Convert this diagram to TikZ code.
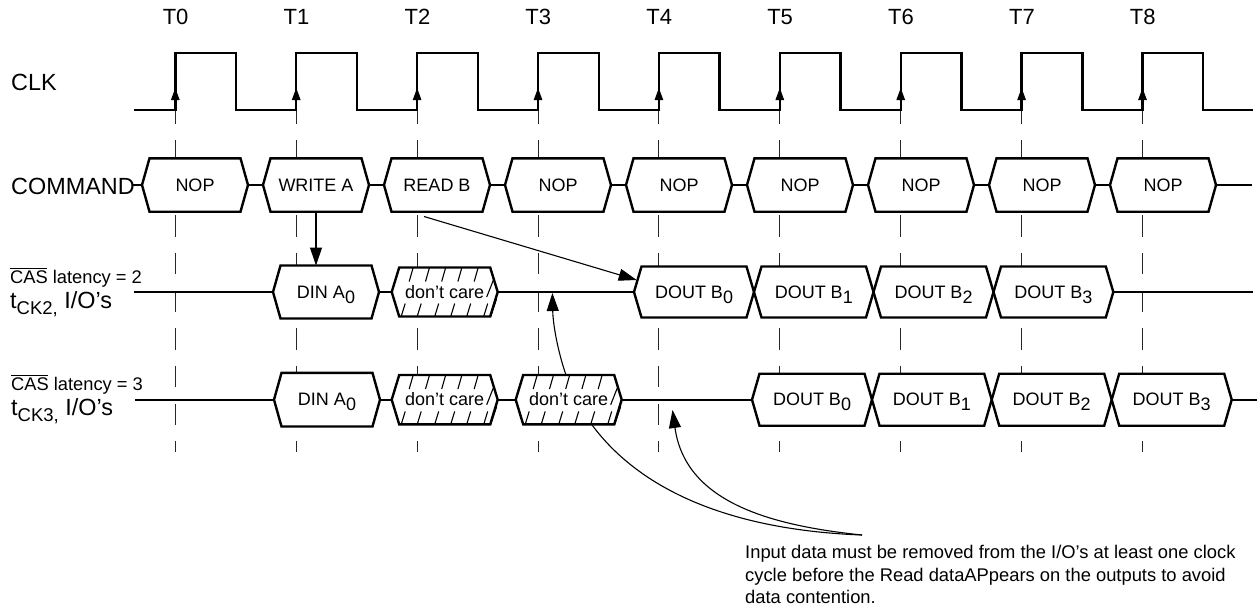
\documentclass[tikz,border=0pt]{standalone}
\usepackage{fontspec}
\setmainfont{Liberation Sans}
\usetikzlibrary{arrows.meta,calc}
\newcommand{\fsz}[1]{\fontsize{#1pt}{#1pt}\selectfont}
\newcommand{\subd}[1]{\raisebox{-5pt}{#1}}
\newcommand{\casbar}{\rlap{\rule[13.8pt]{37pt}{0.9pt}}CAS}
% name, left tip, right tip, mid y, half height, text
\newcommand{\busbox}[6]{%
  \pgfmathsetmacro{\bl}{#2}\pgfmathsetmacro{\br}{#3}%
  \coordinate (#1-l) at (\bl,#4);
  \coordinate (#1-r) at (\br,#4);
  \coordinate (#1-n) at ({(\bl+\br)/2},{#4-#5});
  \coordinate (#1-s) at ({(\bl+\br)/2},{#4+#5});
  \draw[sig,fill=white] (#1-l) -- ({\bl+7.5},{#4-#5}) -- ({\br-7.5},{#4-#5}) -- (#1-r)
     -- ({\br-7.5},{#4+#5}) -- ({\bl+7.5},{#4+#5}) -- cycle;
  \node[boxtext] (#1) at ({(\bl+\br)/2},{#4+6}) {#6};
}
% hatch for a don't-care box: name, left tip, mid y, half height
\newcommand{\hatchbox}[4]{%
  \foreach \o in {21.5,37.8,54,70.2,86.5}
    \draw[hatch] ({#2+\o},{#3-#4}) -- ++(-4,14);
  \foreach \o in {9.5,25.5,43,59,75,92}
    \draw[hatch] ({#2+\o},{#3+#4}) -- ++(4,-13);
  \draw[hatch] ({#2+99},{#3+#4}) -- ++(6,-18);
  \draw[hatch] ({#2+95},{#3+5}) -- ++(6.6,-16.7);
}
\tikzset{
  sig/.style={line width=2.4pt,line join=miter,black},
  hatch/.style={line width=1.1pt,black},
  thin line/.style={line width=1.1pt,black},
  tline/.style={line width=1pt,black!85,dash pattern=on 21.5pt off 16.2pt},
  arr/.style={line width=1.1pt,black,-{Triangle[length=18pt,width=12pt]}},
  clkarr/.style={line width=1pt,black,-{Triangle[length=12pt,width=8.5pt]}},
  boxtext/.style={anchor=base,font=\fsz{18},inner sep=0pt},
  bigtext/.style={anchor=base west,font=\fsz{23.4},inner sep=0pt},
  ttext/.style={anchor=base,font=\fsz{22},inner sep=0pt},
  smalltext/.style={anchor=base west,font=\fsz{18.3},inner sep=0pt},
  note/.style={anchor=base west,font=\fsz{18.35},inner sep=0pt},
}
\begin{document}
\begin{tikzpicture}[x=1pt,y=-1pt]
\useasboundingbox (0,0) rectangle (1260,610);
\fill[white] (0,0) rectangle (1260,610);
% timing lines and labels
\foreach \i in {0,...,8}{
  \pgfmathsetmacro{\tx}{175.3+120.9*\i}
  \coordinate (tt\i) at (\tx,102);
  \coordinate (tb\i) at (\tx,452);
  \draw[tline] (tt\i) -- (tb\i);
  \node[ttext] (T\i) at (\tx+0.3,25) {T\i};
}
% clock
\coordinate (clkstart) at (134,110);
\coordinate (clkend) at (1253,110);
\draw[sig] (clkstart)
  \foreach \i in {0,...,8}{ -- (175.3+120.9*\i,110) -- (175.3+120.9*\i,53) -- (236+120.9*\i,53) -- (236+120.9*\i,110) }
  -- (clkend);
\foreach \i in {0,...,8}
  \draw[clkarr] (175.3+120.9*\i,108) -- (175.3+120.9*\i,88);
% signal baselines
\coordinate (cmdstart) at (133,185);
\coordinate (cmdend) at (1252,185);
\coordinate (r2start) at (134,292);
\coordinate (r2end) at (1253,292);
\coordinate (r3start) at (135,399.7);
\coordinate (r3end) at (1257,399.7);
% command row
\foreach \i/\t in {0/NOP,1/WRITE A,2/READ B,3/NOP,4/NOP,5/NOP,6/NOP,7/NOP,8/NOP}{
  \busbox{cmd\i}{142+121*\i}{248+121*\i}{185}{26.7}{\t}
}
\draw[sig] (cmdstart) -- (cmd0-l);
\foreach \a/\b in {0/1,1/2,2/3,3/4,4/5,5/6,6/7,7/8}
  \draw[sig] (cmd\a-r) -- (cmd\b-l);
\draw[sig] (cmd8-r) -- (cmdend);
% CL=2 row
\busbox{din2}{273}{379}{292}{26.5}{DIN A\subd{0}}
\busbox{dc2}{391.7}{497.7}{292}{24.5}{don’t care}
\hatchbox{dc2}{391.7}{292}{24.5}
\busbox{db20}{634}{754}{292}{25.5}{DOUT B\subd{0}}
\busbox{db21}{754}{873.5}{292}{25.5}{DOUT B\subd{1}}
\busbox{db22}{873.5}{993.5}{292}{25.5}{DOUT B\subd{2}}
\busbox{db23}{993.5}{1113.3}{292}{25.5}{DOUT B\subd{3}}
\draw[sig] (r2start) -- (din2-l);
\draw[sig] (din2-r) -- (dc2-l);
\draw[sig] (dc2-r) -- (db20-l);
\draw[sig] (db23-r) -- (r2end);
% CL=3 row
\busbox{din3}{274}{380}{399.7}{26.8}{DIN A\subd{0}}
\busbox{dc3a}{391.7}{497.7}{399.7}{24.7}{don’t care}
\hatchbox{dc3a}{391.7}{399.7}{24.7}
\busbox{dc3b}{515.7}{621.7}{399.7}{24.7}{don’t care}
\hatchbox{dc3b}{515.7}{399.7}{24.7}
\busbox{db30}{752}{872}{399.7}{26}{DOUT B\subd{0}}
\busbox{db31}{872}{991.7}{399.7}{26}{DOUT B\subd{1}}
\busbox{db32}{991.7}{1111.7}{399.7}{26}{DOUT B\subd{2}}
\busbox{db33}{1111.7}{1231.7}{399.7}{26}{DOUT B\subd{3}}
\draw[sig] (r3start) -- (din3-l);
\draw[sig] (din3-r) -- (dc3a-l);
\draw[sig] (dc3a-r) -- (dc3b-l);
\draw[sig] (dc3b-r) -- (db30-l);
\draw[sig] (db33-r) -- (r3end);
% left labels
\node[bigtext] (clk) at (11,90) {CLK};
\node[bigtext] (cmd) at (11,194) {COMMAND};
\node[smalltext] (cas2) at (10,283) {\casbar{} latency = 2};
\node[bigtext] (io2) at (10,308) {t\fsz{18.5}\raisebox{-6.5pt}{CK2,}\fsz{23.4} I/O’s};
\node[smalltext] (cas3) at (11,390) {\casbar{} latency = 3};
\node[bigtext] (io3) at (11,415) {t\fsz{18.5}\raisebox{-6.5pt}{CK3,}\fsz{23.4} I/O’s};
% note
\node[note] (n1) at (745,558.3) {Input data must be removed from the I/O’s at least one clock};
\node[note] (n2) at (745,581.7) {cycle before the Read dataAPpears on the outputs to avoid};
\node[note] (n3) at (745,603) {data contention.};
% arrows
\draw[arr] (cmd1-s) -- (cmd1-s |- din2-n);
\coordinate (rdfrom) at (424,216.5);
\coordinate (rdto) at (636.7,280);
\draw[arr] (rdfrom) -- (rdto);
\coordinate (upfrom) at (566,375);
\coordinate (upto) at (552.4,293);
\draw[arr] (upfrom) .. controls (558,352) and (553,325) .. (upto);
\coordinate (notept) at (862,535);
\coordinate (notetip) at (672.5,410);
\coordinate (dcout) at (591.7,424.5);
\draw[arr] (notept) .. controls (765,525) and (685,500) .. (notetip);
\draw[thin line] (dcout) .. controls (640,490) and (730,530) .. (notept);
\end{tikzpicture}
\end{document}
